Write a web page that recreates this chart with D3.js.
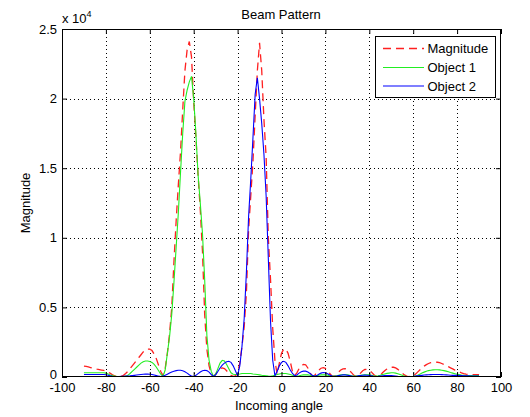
<!DOCTYPE html>
<html><head><meta charset="utf-8">
<script src="https://cdn.jsdelivr.net/npm/d3@7"></script>
<style>html,body{margin:0;padding:0;background:#fff;} svg{display:block;font-family:"Liberation Sans",Arial,Helvetica,sans-serif;}</style>
</head><body>
<svg id="chart" width="530" height="417"></svg>
<script>
// sampling grid (degrees)
const angles = d3.range(-90, 91, 1);
// values in units of 10^4
const magnitude = [
0.078,0.076,0.072,0.068,0.064,0.06,0.056,0.053,0.05,0.047,
0.043,0.036,0.026,0.016,0.008,0.004,0.003,0.005,0.012,0.025,
0.04,0.06,0.08,0.1,0.12,0.14,0.16,0.18,0.195,0.2,
0.2,0.19,0.165,0.13,0.085,0.04,0.01,0.06,0.17,0.31,
0.5,0.83,1.12,1.38,1.62,1.92,2.2,2.35,2.41,2.3,
1.98,1.72,1.45,1.2,0.9,0.45,0.2,0.08,0.02,0.005,
0.02,0.045,0.06,0.065,0.06,0.045,0.025,0.012,0.005,0.008,
0.03,0.1,0.22,0.36,0.6,1.05,1.3,1.55,1.88,2.2,
2.4,2.2,1.85,1.58,1.0,0.7,0.35,0.12,0.02,0.1,
0.17,0.2,0.2,0.17,0.11,0.04,0.01,0.03,0.06,0.08,
0.09,0.088,0.065,0.03,0.008,0.01,0.03,0.05,0.063,0.067,
0.062,0.045,0.025,0.008,0.005,0.015,0.035,0.05,0.058,0.06,
0.056,0.046,0.03,0.012,0.004,0.01,0.028,0.045,0.054,0.055,
0.05,0.035,0.018,0.006,0.004,0.012,0.03,0.045,0.057,0.066,
0.07,0.07,0.065,0.055,0.042,0.028,0.015,0.006,0.003,0.004,
0.01,0.02,0.035,0.05,0.065,0.078,0.089,0.097,0.103,0.106,
0.107,0.106,0.103,0.097,0.09,0.082,0.074,0.066,0.058,0.05,
0.043,0.036,0.03,0.025,0.021,0.018,0.017,0.017,0.017,0.017,
0.017];
const object1 = [
0.03,0.03,0.03,0.03,0.03,0.03,0.03,0.03,0.03,0.03,
0.028,0.022,0.015,0.01,0.006,0.003,0.002,0.002,0.003,0.006,
0.012,0.025,0.04,0.055,0.07,0.085,0.1,0.11,0.115,0.115,
0.112,0.105,0.09,0.07,0.045,0.02,0.004,0.05,0.17,0.29,
0.45,0.68,0.93,1.18,1.47,1.75,1.98,2.06,2.12,2.16,
2.0,1.75,1.45,1.25,1.03,0.7,0.3,0.12,0.04,0.005,
0.02,0.06,0.1,0.12,0.115,0.09,0.06,0.03,0.02,0.018,
0.02,0.022,0.025,0.025,0.025,0.025,0.025,0.022,0.02,0.018,
0.015,0.012,0.01,0.008,0.006,0.005,0.008,0.012,0.018,0.022,
0.025,0.025,0.025,0.022,0.018,0.012,0.008,0.006,0.008,0.012,
0.015,0.016,0.015,0.012,0.008,0.006,0.008,0.012,0.015,0.016,
0.015,0.012,0.008,0.006,0.006,0.008,0.012,0.015,0.016,0.016,
0.015,0.012,0.008,0.006,0.006,0.008,0.012,0.014,0.016,0.016,
0.015,0.012,0.008,0.006,0.008,0.012,0.018,0.022,0.026,0.028,
0.03,0.03,0.028,0.024,0.018,0.012,0.006,0.003,0.002,0.002,
0.003,0.006,0.012,0.02,0.028,0.035,0.041,0.046,0.049,0.051,
0.052,0.052,0.051,0.049,0.046,0.042,0.037,0.032,0.028,0.024,
0.02,0.017,0.014,0.012,0.01,0.01,0.01,0.01,0.01,0.01,
0.01];
const object2 = [
0.018,0.018,0.018,0.018,0.018,0.018,0.018,0.018,0.018,0.018,
0.016,0.012,0.008,0.005,0.004,0.004,0.004,0.005,0.005,0.006,
0.007,0.008,0.01,0.012,0.014,0.016,0.018,0.02,0.021,0.021,
0.02,0.018,0.014,0.01,0.006,0.004,0.006,0.012,0.02,0.028,
0.036,0.042,0.046,0.048,0.048,0.045,0.038,0.028,0.016,0.006,
0.004,0.012,0.024,0.036,0.045,0.048,0.046,0.035,0.018,0.004,
0.015,0.04,0.065,0.085,0.1,0.11,0.113,0.105,0.08,0.045,
0.01,0.08,0.22,0.42,0.75,1.15,1.42,1.72,2.03,2.15,
2.0,1.82,1.6,1.3,0.85,0.4,0.12,0.01,0.04,0.08,
0.105,0.113,0.105,0.08,0.05,0.025,0.01,0.015,0.028,0.037,
0.042,0.042,0.036,0.025,0.012,0.005,0.01,0.02,0.028,0.032,
0.03,0.024,0.015,0.007,0.004,0.006,0.01,0.013,0.015,0.015,
0.013,0.01,0.006,0.004,0.005,0.008,0.011,0.013,0.014,0.013,
0.011,0.008,0.005,0.004,0.005,0.007,0.009,0.01,0.011,0.011,
0.01,0.009,0.007,0.005,0.004,0.004,0.004,0.004,0.004,0.004,
0.004,0.006,0.008,0.01,0.012,0.014,0.015,0.016,0.017,0.018,
0.018,0.018,0.018,0.017,0.016,0.015,0.014,0.013,0.012,0.012,
0.012,0.011,0.01,0.009,0.008,0.008,0.007,0.007,0.006,0.006,
0.006];
const xTicks = [-100,-80,-60,-40,-20,0,20,40,60,80,100];
const yTicks = [0,0.5,1,1.5,2,2.5];
const seriesNames = ["Magnitude","Object 1","Object 2"];
const seriesColors = ["#ff2020","#22ee22","#0000ff"];
const seriesDash = ["8,5", null, null];
const seriesData = [magnitude, object1, object2];

const L = 62, T = 29, R = 501, B = 377;
const svg = d3.select("#chart");
const x = d3.scaleLinear().domain([-100,100]).range([L,R]);
const y = d3.scaleLinear().domain([0,2.5]).range([B,T]);
const fs = "13px";

// grid
const grid = svg.append("g").attr("stroke","#000").attr("stroke-width",1).attr("stroke-dasharray","1,3").attr("shape-rendering","crispEdges");
grid.selectAll("line.vx").data(xTicks.slice(1,-1)).join("line")
  .attr("x1",d=>Math.round(x(d))+0.5).attr("x2",d=>Math.round(x(d))+0.5).attr("y1",T).attr("y2",B);
grid.selectAll("line.hy").data(yTicks.slice(1,-1)).join("line")
  .attr("y1",d=>Math.round(y(d))+0.5).attr("y2",d=>Math.round(y(d))+0.5).attr("x1",L).attr("x2",R);

// series
svg.append("defs").append("clipPath").attr("id","clip").append("rect")
  .attr("x",L).attr("y",T).attr("width",R-L).attr("height",B-T);
const line = d3.line().x((d,i)=>x(angles[i])).y(d=>y(d));
const plot = svg.append("g").attr("clip-path","url(#clip)");
seriesData.forEach((arr,k)=>{
  plot.append("path").datum(arr).attr("d",line).attr("fill","none")
    .attr("stroke",seriesColors[k]).attr("stroke-width",k===0?1.3:1.1)
    .attr("stroke-dasharray",seriesDash[k]);
});

// axes
const fmtX = d=>String(d);
const ax = (g)=>g.call(s=>s.selectAll("text").attr("font-size",fs).attr("fill","#000"))
  .call(s=>s.selectAll("line").attr("stroke","#000"))
  .call(s=>s.select(".domain").remove());
svg.append("g").attr("transform",`translate(0,${B})`)
  .call(d3.axisBottom(x).tickValues(xTicks).tickFormat(fmtX).tickSize(-5).tickPadding(6)).call(ax);
svg.append("g").attr("transform",`translate(0,${T})`)
  .call(d3.axisTop(x).tickValues(xTicks).tickFormat("").tickSize(-5)).call(ax);
const yAxisG = svg.append("g").attr("transform",`translate(${L},0)`)
  .call(d3.axisLeft(y).tickValues(yTicks).tickFormat(d=>String(d)).tickSize(-5).tickPadding(5)).call(ax);
yAxisG.selectAll(".tick text").filter(d=>d===0).attr("y",-2.5);
svg.append("g").attr("transform",`translate(${R},0)`)
  .call(d3.axisRight(y).tickValues(yTicks).tickFormat("").tickSize(-5)).call(ax);
svg.selectAll("g text").attr("font-family",null);

// frame
svg.append("rect").attr("x",L+0.5).attr("y",T+0.5).attr("width",R-L-1).attr("height",B-T-1)
  .attr("fill","none").attr("stroke","#000").attr("stroke-width",1);

// texts
svg.append("text").attr("x",281).attr("y",18.5).attr("text-anchor","middle").attr("font-size",fs).text("Beam Pattern");
const ex = svg.append("text").attr("x",62).attr("y",23).attr("font-size",fs);
ex.append("tspan").text("x 10");
ex.append("tspan").attr("font-size","9px").attr("dy",-6.5).text("4");
svg.append("text").attr("x",279).attr("y",410).attr("text-anchor","middle").attr("font-size",fs).text("Incoming angle");
svg.append("text").attr("transform","translate(30,203) rotate(-90)").attr("text-anchor","middle").attr("font-size",fs).text("Magnitude");

// legend
const lg = svg.append("g");
lg.append("rect").attr("x",375.5).attr("y",36.5).attr("width",120).attr("height",61).attr("fill","#fff").attr("stroke","#000");
const legY = [48.5, 67.5, 86];
seriesNames.forEach((n,k)=>{
  lg.append("line").attr("x1",383).attr("x2",424).attr("y1",legY[k]).attr("y2",legY[k])
    .attr("stroke",seriesColors[k]).attr("stroke-width",k===0?1.3:1.1).attr("stroke-dasharray",seriesDash[k]);
  lg.append("text").attr("x",427.5).attr("y",legY[k]+4.5).attr("font-size",fs).text(n);
});
</script>
</body></html>
